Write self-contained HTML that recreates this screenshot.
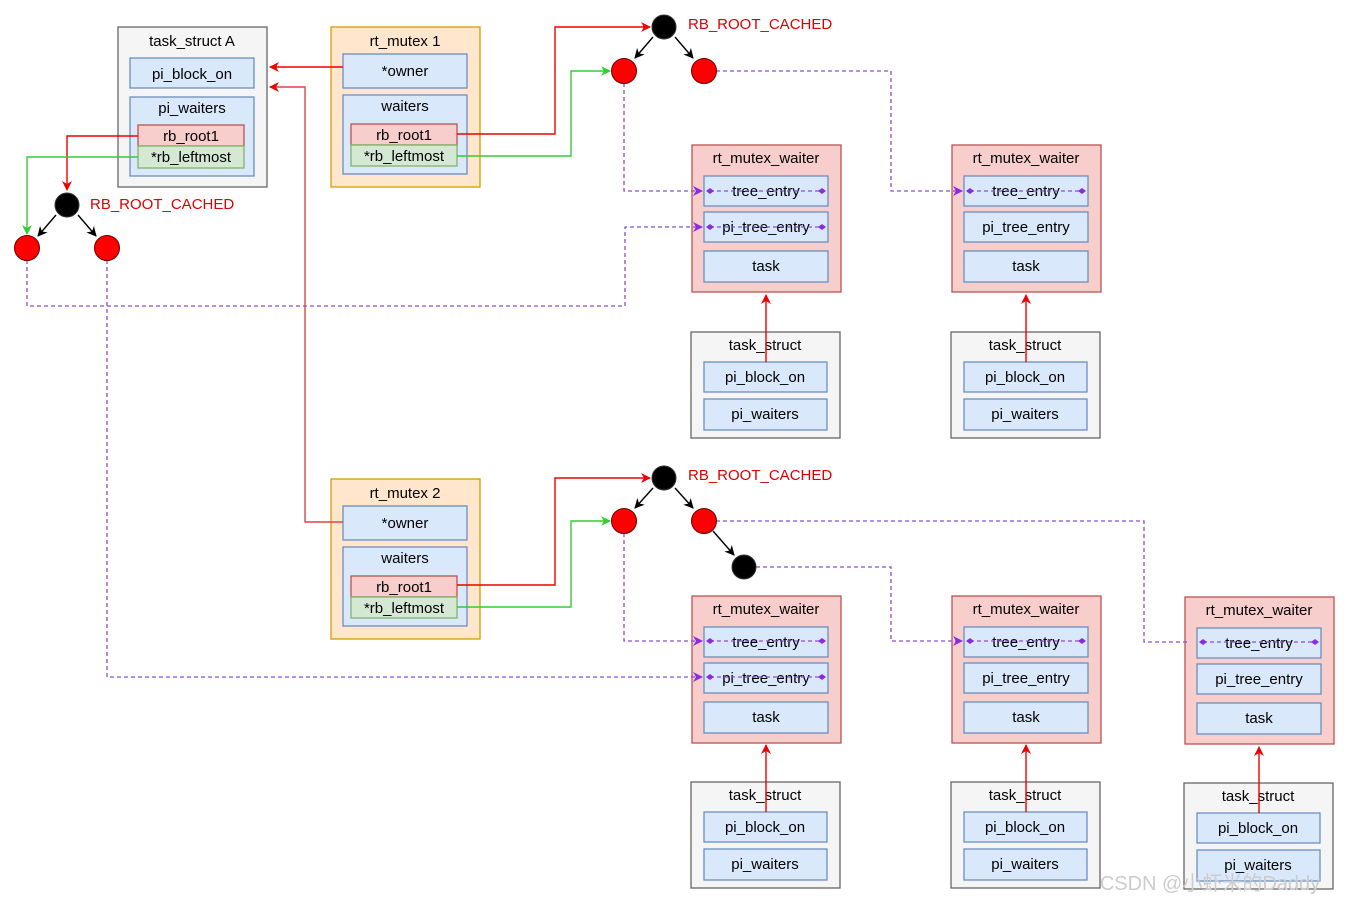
<!DOCTYPE html>
<html><head><meta charset="utf-8"><style>
html,body{margin:0;padding:0;background:#fff;}
svg{display:block;}
text{font-family:"Liberation Sans","Noto Sans CJK SC",sans-serif;font-size:15px;fill:#000;text-anchor:middle;}
.b{fill:#dae8fc;stroke:#6c8ebf;stroke-width:1.3;}
.r{fill:#f8cecc;stroke:#b85450;stroke-width:1.3;}
.g{fill:#d5e8d4;stroke:#82b366;stroke-width:1.3;}
.gr{fill:#f5f5f5;stroke:#666;stroke-width:1.3;}
.o{fill:#ffe6cc;stroke:#d79b00;stroke-width:1.3;}
.red{stroke:#e00;stroke-width:1.4;fill:none;}
.grn{stroke:#3c3;stroke-width:1.4;fill:none;}
.pur{stroke:#8a4fd0;stroke-width:1.3;fill:none;stroke-dasharray:4 3;}
.blk{stroke:#000;stroke-width:1.4;fill:none;}
.lbl{fill:#d00;text-anchor:start;font-size:15px;}
</style></head><body>
<svg width="1349" height="905" viewBox="0 0 1349 905" xmlns="http://www.w3.org/2000/svg">
<defs>
<marker id="ar" markerWidth="10" markerHeight="10" refX="9" refY="5" orient="auto" markerUnits="userSpaceOnUse"><path d="M0,0 L10,5 L0,10 L3,5 z" fill="#e00"/></marker>
<marker id="ag" markerWidth="10" markerHeight="10" refX="9" refY="5" orient="auto" markerUnits="userSpaceOnUse"><path d="M0,0 L10,5 L0,10 L3,5 z" fill="#3c3"/></marker>
<marker id="ak" markerWidth="10" markerHeight="10" refX="9" refY="5" orient="auto" markerUnits="userSpaceOnUse"><path d="M0,0 L10,5 L0,10 L3,5 z" fill="#000"/></marker>
<marker id="ap" markerWidth="10" markerHeight="10" refX="9" refY="5" orient="auto" markerUnits="userSpaceOnUse"><path d="M0,0 L10,5 L0,10 L3,5 z" fill="#8a2be2"/></marker>
<marker id="dp" markerWidth="8" markerHeight="8" refX="4" refY="4" orient="auto" markerUnits="userSpaceOnUse"><path d="M0,4 L4,1 L8,4 L4,7 z" fill="#8a2be2"/></marker>
<g id="waiter">
<rect class="r" x="0" y="0" width="149" height="147"/>
<text x="74" y="18">rt_mutex_waiter</text>
<rect class="b" x="12" y="31" width="124" height="30"/><text x="74" y="51">tree_entry</text>
<rect class="b" x="12" y="67" width="124" height="30"/><text x="74" y="87">pi_tree_entry</text>
<rect class="b" x="12" y="106" width="124" height="31"/><text x="74" y="126">task</text>
</g>
<g id="ts">
<rect class="gr" x="0" y="0" width="149" height="106"/>
<text x="74" y="18">task_struct</text>
<rect class="b" x="13" y="30" width="123" height="30"/><text x="74" y="50">pi_block_on</text>
<rect class="b" x="13" y="67" width="123" height="31"/><text x="74" y="87">pi_waiters</text>
</g>
<g id="mutexin">
<rect class="b" x="12" y="27" width="124" height="34"/><text x="74" y="49">*owner</text>
<rect class="b" x="12" y="68" width="124" height="79"/><text x="74" y="84">waiters</text>
<rect class="r" x="20" y="97" width="106" height="21"/><text x="73" y="113">rb_root1</text>
<rect class="g" x="20" y="118" width="106" height="21"/><text x="73" y="134">*rb_leftmost</text>
</g>
</defs>

<!-- task_struct A -->
<rect class="gr" x="118" y="27" width="149" height="160"/>
<text x="192" y="46">task_struct A</text>
<rect class="b" x="130" y="58" width="124" height="30"/><text x="192" y="79">pi_block_on</text>
<rect class="b" x="130" y="97" width="124" height="79"/><text x="192" y="113">pi_waiters</text>
<rect class="r" x="138" y="125" width="106" height="21"/><text x="191" y="141">rb_root1</text>
<rect class="g" x="138" y="146" width="106" height="22"/><text x="191" y="162">*rb_leftmost</text>

<!-- rt_mutex 1 & 2 -->
<rect class="o" x="331" y="27" width="149" height="160"/><text x="405" y="46">rt_mutex 1</text>
<use href="#mutexin" x="331" y="27"/>
<rect class="o" x="331" y="479" width="149" height="160"/><text x="405" y="498">rt_mutex 2</text>
<use href="#mutexin" x="331" y="479"/>

<!-- waiters & task_structs -->
<use href="#waiter" x="692" y="145"/><use href="#waiter" x="952" y="145"/>
<use href="#ts" x="691" y="332"/><use href="#ts" x="951" y="332"/>
<use href="#waiter" x="692" y="596"/><use href="#waiter" x="952" y="596"/><use href="#waiter" x="1185" y="597"/>
<use href="#ts" x="691" y="782"/><use href="#ts" x="951" y="782"/><use href="#ts" x="1184" y="783"/>

<!-- red up arrows -->
<path class="red" d="M766,362 V295" marker-end="url(#ar)"/>
<path class="red" d="M1026,362 V295" marker-end="url(#ar)"/>
<path class="red" d="M766,812 V745" marker-end="url(#ar)"/>
<path class="red" d="M1026,812 V745" marker-end="url(#ar)"/>
<path class="red" d="M1259,813 V747" marker-end="url(#ar)"/>

<!-- owner pointers -->
<path class="red" d="M343,67 H270" marker-end="url(#ar)"/>
<path class="red" d="M343,522 H305 V87 H270" marker-end="url(#ar)" style="stroke:#d44"/>

<!-- A's tree pointers -->
<path class="red" d="M138,136 H67 V190" marker-end="url(#ar)"/>
<path class="grn" d="M138,157 H27 V234" marker-end="url(#ag)"/>
<!-- mutex1 -->
<path class="red" d="M457,134 H555 V27 H650" marker-end="url(#ar)"/>
<path class="grn" d="M457,156 H571 V71 H610" marker-end="url(#ag)"/>
<!-- mutex2 -->
<path class="red" d="M457,585 H555 V478 H650" marker-end="url(#ar)"/>
<path class="grn" d="M457,607 H571 V521 H610" marker-end="url(#ag)"/>

<!-- purple dashed -->
<path class="pur" d="M624,83 V191 H702" marker-end="url(#ap)"/>
<path class="pur" d="M716,71 H891 V191 H962" marker-end="url(#ap)"/>
<path class="pur" d="M27,260 V306 H625 V227 H702" marker-end="url(#ap)"/>
<path class="pur" d="M107,260 V677 H702" marker-end="url(#ap)"/>
<path class="pur" d="M624,533 V641 H702" marker-end="url(#ap)"/>
<path class="pur" d="M756,567 H891 V641 H962" marker-end="url(#ap)"/>
<path class="pur" d="M716,521 H1144 V642 H1190"/>
<!-- inner dashed lines with diamonds -->
<path class="pur" d="M710,191 H822" marker-start="url(#dp)" marker-end="url(#dp)"/>
<path class="pur" d="M710,227 H822" marker-start="url(#dp)" marker-end="url(#dp)"/>
<path class="pur" d="M970,191 H1082" marker-start="url(#dp)" marker-end="url(#dp)"/>
<path class="pur" d="M710,641 H822" marker-start="url(#dp)" marker-end="url(#dp)"/>
<path class="pur" d="M710,677 H822" marker-start="url(#dp)" marker-end="url(#dp)"/>
<path class="pur" d="M970,641 H1082" marker-start="url(#dp)" marker-end="url(#dp)"/>
<path class="pur" d="M1203,642 H1315" marker-start="url(#dp)" marker-end="url(#dp)"/>

<!-- trees -->
<path class="blk" d="M56,215 L38,236" marker-end="url(#ak)"/>
<path class="blk" d="M78,215 L96,236" marker-end="url(#ak)"/>
<circle cx="67" cy="205" r="12" fill="#000" stroke="#333"/>
<circle cx="27" cy="248" r="12.5" fill="#f00" stroke="#600"/>
<circle cx="107" cy="248" r="12.5" fill="#f00" stroke="#600"/>
<text class="lbl" x="90" y="209">RB_ROOT_CACHED</text>

<path class="blk" d="M653,37 L635,58" marker-end="url(#ak)"/>
<path class="blk" d="M675,37 L693,58" marker-end="url(#ak)"/>
<circle cx="664" cy="27" r="12" fill="#000" stroke="#333"/>
<circle cx="624" cy="71" r="12.5" fill="#f00" stroke="#600"/>
<circle cx="704" cy="71" r="12.5" fill="#f00" stroke="#600"/>
<text class="lbl" x="688" y="29">RB_ROOT_CACHED</text>

<path class="blk" d="M653,488 L635,508" marker-end="url(#ak)"/>
<path class="blk" d="M675,488 L693,508" marker-end="url(#ak)"/>
<path class="blk" d="M713,531 L734,555" marker-end="url(#ak)"/>
<circle cx="664" cy="478" r="12" fill="#000" stroke="#333"/>
<circle cx="624" cy="521" r="12.5" fill="#f00" stroke="#600"/>
<circle cx="704" cy="521" r="12.5" fill="#f00" stroke="#600"/>
<circle cx="744" cy="567" r="12" fill="#000" stroke="#333"/>
<text class="lbl" x="688" y="480">RB_ROOT_CACHED</text>

<text x="1210" y="890" style="font-size:20px;fill:#ccc;">CSDN @小虾米的Daddy</text>
</svg>
</body></html>
